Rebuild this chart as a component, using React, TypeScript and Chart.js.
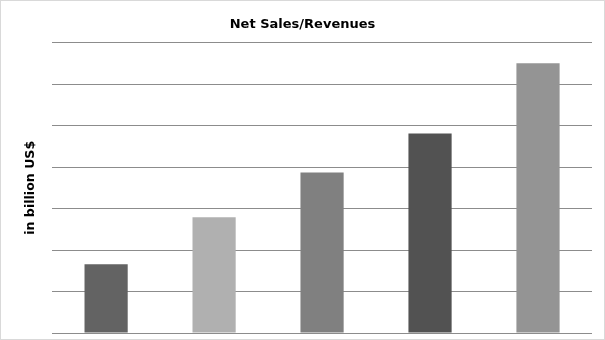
import React, { useEffect, useRef } from "react";
import { Chart, registerables } from "chart.js";

Chart.register(...registerables);

const categories: string[] = ["Year 1", "Year 2", "Year 3", "Year 4", "Year 5"];
const netSales: number[] = [1.66, 2.79, 3.87, 4.81, 6.5];
const barColors: string[] = ["#636363", "#b0b0b0", "#808080", "#525252", "#949494"];
const chartTitle = "Net Sales/Revenues";
const yAxisTitle = "in billion US$";

export default function App() {
  const canvasRef = useRef<HTMLCanvasElement | null>(null);

  useEffect(() => {
    document.body.style.margin = "0";
    const ctx = canvasRef.current;
    if (!ctx) return;
    const chart = new Chart(ctx, {
      type: "bar",
      data: {
        labels: categories,
        datasets: [
          {
            label: "Net Sales",
            data: netSales,
            backgroundColor: barColors,
            borderWidth: 0,
            barPercentage: 0.4,
            categoryPercentage: 1,
          },
        ],
      },
      options: {
        animation: false,
        responsive: true,
        maintainAspectRatio: false,
        layout: { padding: { left: 13, right: 13, top: 0, bottom: 7 } },
        plugins: {
          legend: { display: false },
          tooltip: { enabled: false },
          title: {
            display: true,
            text: chartTitle,
            color: "#000000",
            font: { family: "DejaVu Sans", size: 13, weight: "bold" },
            padding: { top: 17, bottom: 10 },
          },
        },
        scales: {
          x: {
            display: false,
          },
          y: {
            min: 0,
            max: 7,
            ticks: { display: false, stepSize: 1 },
            grid: { color: "#8c8c8c", lineWidth: 1, drawTicks: false },
            border: { display: false },
            title: {
              display: true,
              text: yAxisTitle,
              color: "#000000",
              font: { family: "DejaVu Sans", size: 12.6, weight: "bold" },
              padding: { top: 10, bottom: 14 },
            },
          },
        },
      },
    });
    return () => chart.destroy();
  }, []);

  return (
    <div style={{ position: "relative", width: 605, height: 340, background: "#ffffff" }}>
      <canvas ref={canvasRef} />
      <div
        style={{
          position: "absolute",
          inset: 0,
          border: "1px solid #d9d9d9",
          boxSizing: "border-box",
          pointerEvents: "none",
        }}
      />
    </div>
  );
}
